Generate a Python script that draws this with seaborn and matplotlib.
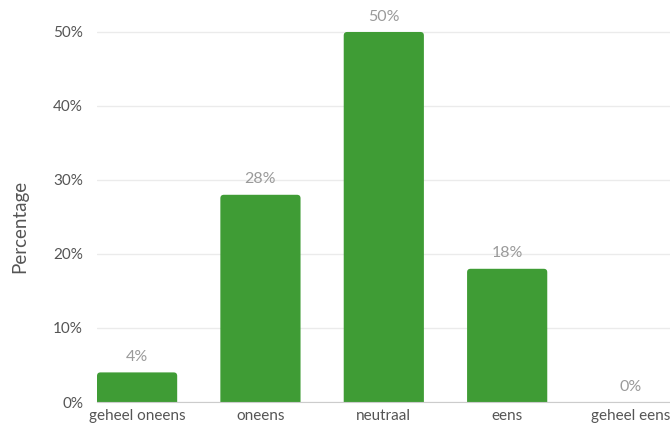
import numpy as np
import pandas as pd
import matplotlib
matplotlib.use("Agg")
import matplotlib.pyplot as plt
import seaborn as sns
from matplotlib.patches import FancyBboxPatch

# data
categories = ["geheel oneens", "oneens", "neutraal", "eens", "geheel eens"]
percentages = [4, 28, 50, 18, 0]
yticks = [0, 10, 20, 30, 40, 50]

bar_color = "#3f9c35"
sns.set_style("white")
plt.rcParams['font.family'] = ['Lato', 'DejaVu Sans']

df = pd.DataFrame({"categorie": categories, "percentage": percentages})

fig = plt.figure(figsize=(6.7, 4.28), dpi=100)
ax = fig.add_axes([97 / 670, 26 / 428, 573 / 670, 400 / 428])

sns.barplot(data=df, x="categorie", y="percentage", color=bar_color,
            width=0.65, saturation=1, ax=ax, zorder=3)

ax.set_xlim(-0.325, 4.32)
ax.set_ylim(0, 54.05)

# afgeronde hoeken (onderkant valt weg onder de as)
x_px = 573 / (4.32 + 0.325)
y_px = 400 / 54.05
r = 3.5 / x_px
for p in list(ax.patches):
    x, w, h = p.get_x(), p.get_width(), p.get_height()
    p.remove()
    if h <= 0:
        continue
    box = FancyBboxPatch((x, -2), w, h + 2,
                         boxstyle=f"round,pad=0,rounding_size={r}",
                         mutation_aspect=x_px / y_px,
                         facecolor=bar_color, edgecolor="none", zorder=3)
    ax.add_patch(box)

for i, v in enumerate(percentages):
    ax.annotate(f"{v}%", (i, v), xytext=(0, 6), textcoords="offset points",
                ha="center", va="bottom", fontsize=11.5, color="#9a9a9a")

ax.set_yticks(yticks)
ax.set_yticklabels([f"{t}%" for t in yticks])
ax.yaxis.grid(True, color="#ebebeb", linewidth=1, zorder=0)
ax.tick_params(axis="y", length=0, pad=10, labelsize=11, labelcolor="#555555")
ax.tick_params(axis="x", length=0, pad=5, labelsize=11, labelcolor="#555555")

for s in ["top", "right", "left"]:
    ax.spines[s].set_visible(False)
ax.spines["bottom"].set_color("#cccccc")
ax.spines["bottom"].set_zorder(4)

ax.set_xlabel("")
ax.set_ylabel("Percentage", fontsize=13.5, color="#555555")
ax.yaxis.set_label_coords(-0.12, 0.44)

fig.savefig("out.png", dpi=100)
